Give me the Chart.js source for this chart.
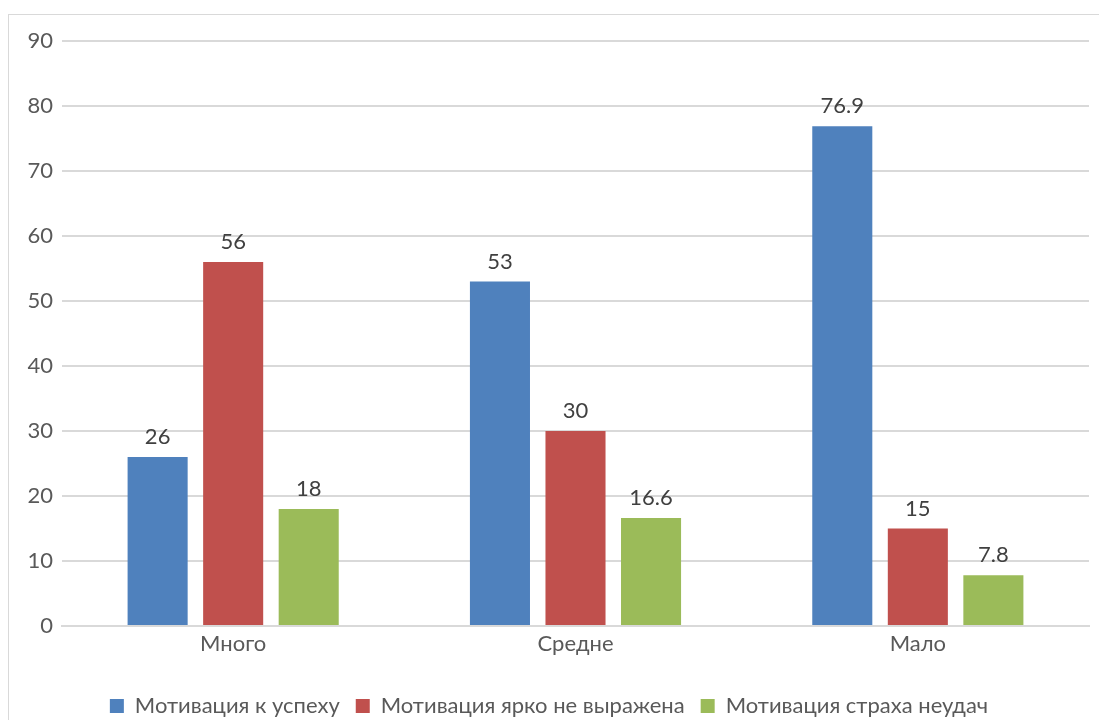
<!DOCTYPE html>
<html>
<head>
<meta charset="utf-8">
<script src="https://cdn.jsdelivr.net/npm/chart.js@4/dist/chart.umd.min.js"></script>
<style>
  html, body { margin: 0; padding: 0; background: #fff; overflow: hidden; }
  #frame {
    position: absolute; left: 8px; top: 14px;
    width: 1100px; height: 740px;
    border: 1px solid #d9d9d9; background: #fff;
  }
  #wrap { position: absolute; left: 0; top: 0; width: 1090px; height: 712px; }
</style>
</head>
<body>
<div id="frame"><div id="wrap"><canvas id="bar-chart"></canvas></div></div>
<script>
const categories = ['Много', 'Средне', 'Мало'];
const seriesNames = ['Мотивация к успеху', 'Мотивация ярко не выражена', 'Мотивация страха неудач'];
const success = [26, 53, 76.9];
const neutral = [56, 30, 15];
const fear = [18, 16.6, 7.8];
const colors = ['#4f81bd', '#c0504d', '#9bbb59'];

// values written above each bar
const valueLabels = {
    id: 'valueLabels',
    afterDatasetsDraw(chart) {
        const ctx = chart.ctx;
        ctx.save();
        ctx.font = '22px Lato';
        ctx.fillStyle = '#404040';
        ctx.textAlign = 'center';
        ctx.textBaseline = 'alphabetic';
        chart.data.datasets.forEach((ds, i) => {
            chart.getDatasetMeta(i).data.forEach((bar, j) => {
                ctx.fillText(String(ds.data[j]), bar.x, bar.y - 13);
            });
        });
        ctx.restore();
    }
};

new Chart(document.getElementById('bar-chart'), {
    type: 'bar',
    data: {
        labels: categories,
        datasets: [
            { label: seriesNames[0], data: success, backgroundColor: colors[0] },
            { label: seriesNames[1], data: neutral, backgroundColor: colors[1] },
            { label: seriesNames[2], data: fear, backgroundColor: colors[2] }
        ]
    },
    options: {
        responsive: true,
        maintainAspectRatio: false,
        animation: false,
        datasets: { bar: { categoryPercentage: 0.662, barPercentage: 0.795 } },
        layout: { padding: { top: 26, right: 10, bottom: 0 } },
        plugins: {
            tooltip: { enabled: false },
            legend: {
                position: 'bottom',
                labels: {
                    font: { family: 'Lato', size: 22 },
                    color: '#595959',
                    boxWidth: 14,
                    boxHeight: 14,
                    padding: 16
                }
            }
        },
        scales: {
            x: {
                afterFit: (s) => { s.height = 53; },
                grid: { display: false, drawTicks: false },
                border: { color: '#d9d9d9', width: 2 },
                ticks: { font: { family: 'Lato', size: 22 }, color: '#595959', padding: 5 }
            },
            y: {
                min: 0,
                max: 90,
                afterFit: (s) => { s.width = 53; },
                border: { display: false },
                grid: { color: '#d9d9d9', lineWidth: 2, drawTicks: false },
                ticks: {
                    stepSize: 10,
                    font: { family: 'Lato', size: 22 },
                    color: '#595959',
                    padding: 9
                }
            }
        }
    },
    plugins: [valueLabels]
});
</script>
</body>
</html>
